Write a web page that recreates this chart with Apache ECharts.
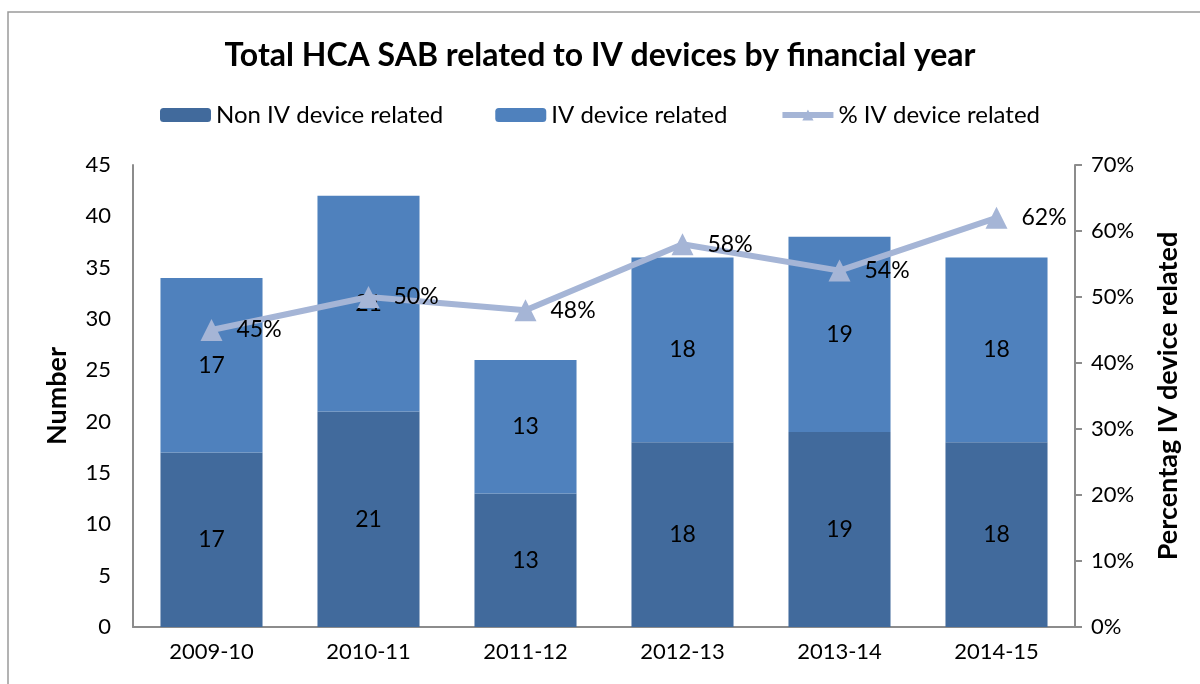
<!DOCTYPE html>
<html>
<head>
<meta charset="utf-8">
<script src="https://cdn.jsdelivr.net/npm/echarts@6/dist/echarts.min.js"></script>
<style>
  html, body { margin: 0; padding: 0; background: #fff; }
  #chart { width: 1200px; height: 684px; }
</style>
</head>
<body>
<div id="chart"></div>
<script>
  const years = ['2009-10', '2010-11', '2011-12', '2012-13', '2013-14', '2014-15']
  const nonIV = [17, 21, 13, 18, 19, 18]
  const iv = [17, 21, 13, 18, 19, 18]
  const ivPct = [45, 50, 48, 58, 54, 62]

  const font = 'Lato, "DejaVu Sans", sans-serif'
  const chart = echarts.init(document.getElementById('chart'))

  chart.setOption({
    animation: false,
    textStyle: { fontFamily: font, color: '#000' },
    graphic: [{
      type: 'rect',
      shape: { x: 8, y: 12, width: 1300, height: 800 },
      style: { fill: 'none', stroke: '#9a9a9a', lineWidth: 1.5 },
      silent: true
    }],
    title: {
      text: 'Total HCA SAB related to IV devices by financial year',
      left: 'center',
      top: 35,
      textStyle: { fontFamily: font, fontSize: 32, fontWeight: 'bold', color: '#000' }
    },
    legend: {
      top: 98,
      left: 'center',
      itemWidth: 51,
      itemHeight: 14,
      itemGap: 52,
      textStyle: { fontFamily: font, fontSize: 24, color: '#000' },
      data: [
        'Non IV device related',
        'IV device related',
        { name: '% IV device related', itemStyle: { color: '#a5b5d6' }, lineStyle: { width: 6, color: '#a5b5d6' } }
      ]
    },
    grid: { left: 133, right: 125, top: 165, bottom: 57 },
    xAxis: {
      type: 'category',
      data: years,
      axisLine: { lineStyle: { color: '#8c8c8c', width: 2 } },
      axisTick: { show: false },
      axisLabel: { fontSize: 22, color: '#000', margin: 14, fontFamily: font }
    },
    yAxis: [{
      type: 'value',
      min: 0,
      max: 45,
      interval: 5,
      name: 'Number',
      nameLocation: 'middle',
      nameGap: 62,
      nameTextStyle: { fontSize: 27, fontWeight: 'bold', color: '#000', fontFamily: font },
      axisLine: { show: true, lineStyle: { color: '#8c8c8c', width: 2 } },
      axisTick: { show: false },
      splitLine: { show: false },
      axisLabel: { fontSize: 22, color: '#000', margin: 22, fontFamily: font }
    }, {
      type: 'value',
      min: 0,
      max: 70,
      interval: 10,
      name: 'Percentag IV device related',
      nameLocation: 'middle',
      nameGap: 80,
      nameRotate: 90,
      nameTextStyle: { fontSize: 27, fontWeight: 'bold', color: '#000', fontFamily: font },
      axisLine: { show: true, lineStyle: { color: '#8c8c8c', width: 2 } },
      axisTick: { show: true, length: 7, lineStyle: { color: '#8c8c8c', width: 2 } },
      splitLine: { show: false },
      axisLabel: { fontSize: 22, color: '#000', margin: 16, formatter: '{value}%', fontFamily: font }
    }],
    series: [{
      name: 'Non IV device related',
      type: 'bar',
      stack: 'total',
      barWidth: '65%',
      data: nonIV,
      itemStyle: { color: '#416a9c' },
      label: { show: true, position: 'inside', fontSize: 23, color: '#000', fontFamily: font }
    }, {
      name: 'IV device related',
      type: 'bar',
      stack: 'total',
      data: iv,
      itemStyle: { color: '#4f81bd' },
      label: { show: true, position: 'inside', fontSize: 23, color: '#000', fontFamily: font }
    }, {
      name: '% IV device related',
      type: 'line',
      yAxisIndex: 1,
      data: ivPct,
      symbol: 'triangle',
      symbolSize: 22,
      lineStyle: { color: '#a5b5d6', width: 6 },
      itemStyle: { color: '#a5b5d6' },
      label: {
        show: true,
        position: 'right',
        distance: 14,
        fontSize: 23,
        color: '#000',
        fontFamily: font,
        formatter: p => p.value + '%'
      },
      z: 5
    }]
  })
</script>
</body>
</html>
